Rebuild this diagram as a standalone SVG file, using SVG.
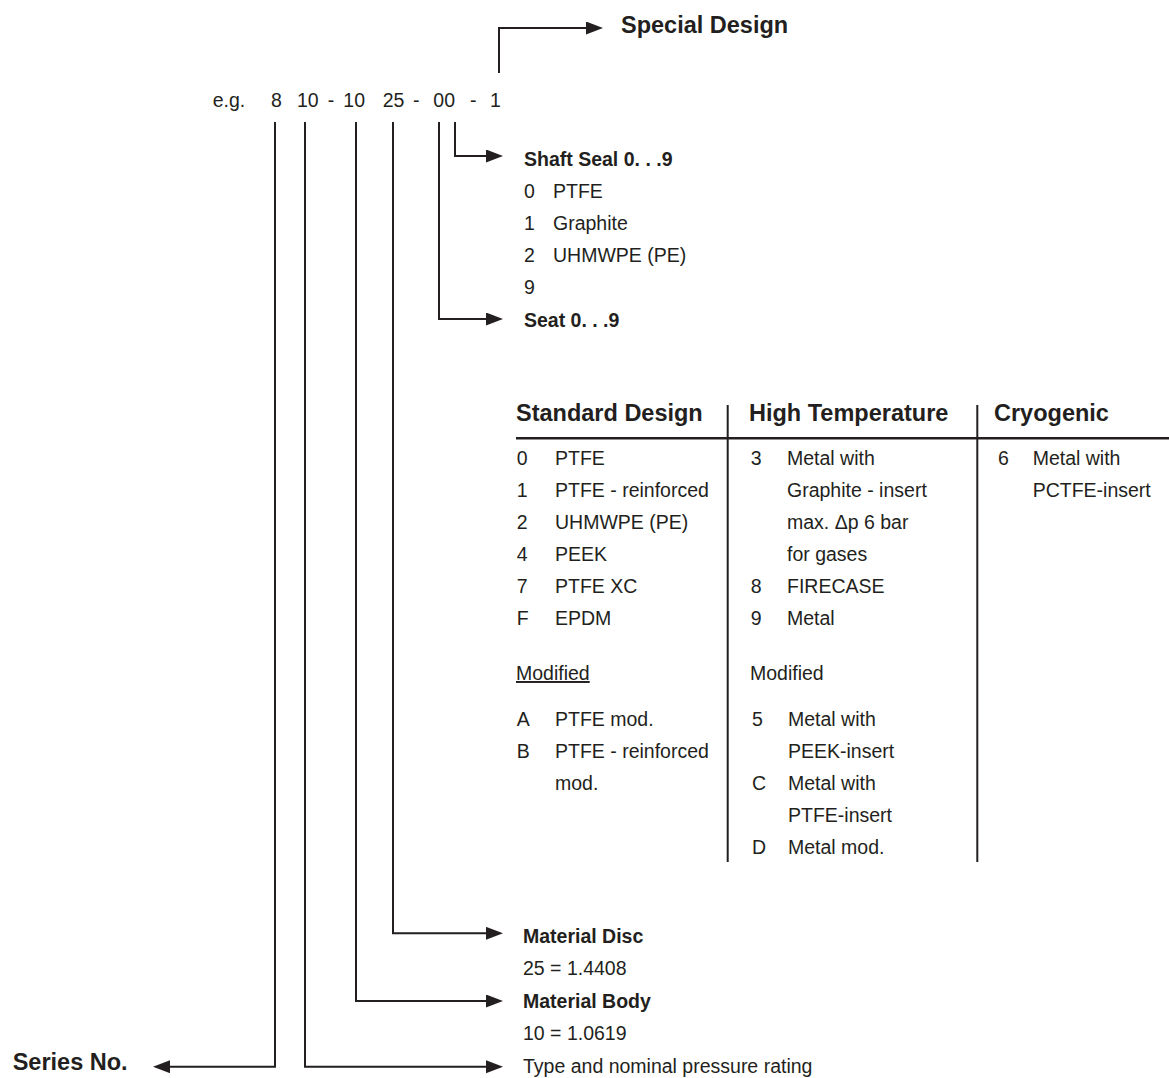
<svg xmlns="http://www.w3.org/2000/svg" width="1169" height="1078" viewBox="0 0 1169 1078">
<style>
text{font-family:"Liberation Sans",Arial,sans-serif;fill:#231f20;}
.r{font-size:19.5px;}
.b{font-size:19.5px;font-weight:bold;}
.h{font-size:23.5px;font-weight:bold;}
.c{fill:none;stroke:#231f20;stroke-width:2;}
.t{stroke:#231f20;stroke-width:2;}
</style>
<defs>
<marker id="ah" markerUnits="userSpaceOnUse" markerWidth="18" markerHeight="14" refX="9" refY="6.5" orient="auto">
<path d="M0,0 L17,6.5 L0,13 z" fill="#231f20"/>
</marker>
</defs>
<rect width="1169" height="1078" fill="#ffffff"/>

<g id="code">
<text class="r" y="107"><tspan x="212.7">e.g.</tspan><tspan x="271">8</tspan><tspan x="297">10</tspan><tspan x="327.7">-</tspan><tspan x="343.3">10</tspan><tspan x="382.7">25</tspan><tspan x="413">-</tspan><tspan x="433.3">00</tspan><tspan x="470">-</tspan><tspan x="490">1</tspan></text>
</g>

<g id="connectors">
<path class="c" d="M499 73 V28 H595" marker-end="url(#ah)"/>
<path class="c" d="M455 122 V156 H495" marker-end="url(#ah)"/>
<path class="c" d="M439 122 V319 H495" marker-end="url(#ah)"/>
<path class="c" d="M393 122 V933.3 H495" marker-end="url(#ah)"/>
<path class="c" d="M356 122 V1001 H495" marker-end="url(#ah)"/>
<path class="c" d="M305 122 V1066.7 H495" marker-end="url(#ah)"/>
<path class="c" d="M275 122 V1066.7 H161" marker-end="url(#ah)"/>
</g>

<g id="special-design">
<text class="h" x="621" y="33">Special Design</text>
</g>

<g id="shaft-seal">
<text class="b" x="524" y="166">Shaft Seal 0. . .9</text>
<text class="r" x="524" y="198">0</text><text class="r" x="553" y="198">PTFE</text>
<text class="r" x="524" y="230">1</text><text class="r" x="553" y="230">Graphite</text>
<text class="r" x="524" y="262">2</text><text class="r" x="553" y="262">UHMWPE (PE)</text>
<text class="r" x="524" y="294">9</text>
</g>

<g id="seat">
<text class="b" x="524" y="327">Seat 0. . .9</text>
</g>

<g id="seat-table">
<text class="h" x="516" y="421">Standard Design</text>
<text class="h" x="749" y="421">High Temperature</text>
<text class="h" x="994" y="421">Cryogenic</text>
<line class="t" x1="516" y1="438.3" x2="1169" y2="438.3" style="stroke-width:2.5"/>
<line class="t" x1="727.7" y1="405" x2="727.7" y2="862"/>
<line class="t" x1="977.3" y1="405" x2="977.3" y2="862"/>

<text class="r" x="516.7" y="465">0</text><text class="r" x="555" y="465">PTFE</text>
<text class="r" x="516.7" y="497">1</text><text class="r" x="555" y="497">PTFE - reinforced</text>
<text class="r" x="516.7" y="529">2</text><text class="r" x="555" y="529">UHMWPE (PE)</text>
<text class="r" x="516.7" y="561">4</text><text class="r" x="555" y="561">PEEK</text>
<text class="r" x="516.7" y="593">7</text><text class="r" x="555" y="593">PTFE XC</text>
<text class="r" x="516.7" y="625">F</text><text class="r" x="555" y="625">EPDM</text>
<text class="r" x="516" y="680" text-decoration="underline">Modified</text>
<text class="r" x="516.7" y="726">A</text><text class="r" x="555" y="726">PTFE mod.</text>
<text class="r" x="516.7" y="758">B</text><text class="r" x="555" y="758">PTFE - reinforced</text>
<text class="r" x="555" y="790">mod.</text>

<text class="r" x="750.7" y="465">3</text><text class="r" x="787" y="465">Metal with</text>
<text class="r" x="787" y="497">Graphite - insert</text>
<text class="r" x="787" y="529">max. Δp 6 bar</text>
<text class="r" x="787" y="561">for gases</text>
<text class="r" x="750.7" y="593">8</text><text class="r" x="787" y="593">FIRECASE</text>
<text class="r" x="750.7" y="625">9</text><text class="r" x="787" y="625">Metal</text>
<text class="r" x="750" y="680">Modified</text>
<text class="r" x="752" y="726">5</text><text class="r" x="788" y="726">Metal with</text>
<text class="r" x="788" y="758">PEEK-insert</text>
<text class="r" x="752" y="790">C</text><text class="r" x="788" y="790">Metal with</text>
<text class="r" x="788" y="822">PTFE-insert</text>
<text class="r" x="752" y="854">D</text><text class="r" x="788" y="854">Metal mod.</text>

<text class="r" x="998" y="465">6</text><text class="r" x="1032.7" y="465">Metal with</text>
<text class="r" x="1032.7" y="497">PCTFE-insert</text>
</g>

<g id="material-disc">
<text class="b" x="523" y="943">Material Disc</text>
<text class="r" x="523" y="975">25 = 1.4408</text>
</g>

<g id="material-body">
<text class="b" x="523" y="1008">Material Body</text>
<text class="r" x="523" y="1040">10 = 1.0619</text>
</g>

<g id="type-rating">
<text class="r" x="523" y="1073">Type and nominal pressure rating</text>
</g>

<g id="series-no">
<text class="h" x="12.7" y="1070">Series No.</text>
</g>
</svg>
